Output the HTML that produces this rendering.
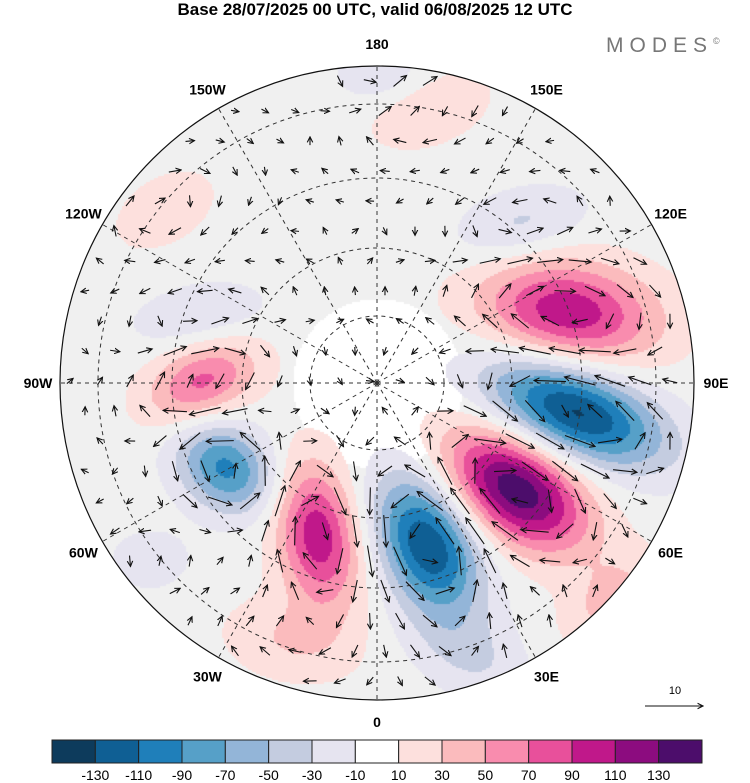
<!DOCTYPE html>
<html><head><meta charset="utf-8"><style>
body{margin:0;background:#fff;width:750px;height:783px;overflow:hidden;font-family:"Liberation Sans",sans-serif;}
#wrap{position:relative;width:750px;height:783px;}
</style></head><body>
<div id="wrap">
<div style="position:absolute;left:0;width:750px;top:0;text-align:center;font-weight:bold;font-size:17px;">Base 28/07/2025 00 UTC, valid 06/08/2025 12 UTC</div>
<div style="position:absolute;left:606px;top:34px;font-size:21px;letter-spacing:6px;color:#777;">MODES<sup style="font-size:9px;letter-spacing:0">©</sup></div>
<canvas id="map" width="750" height="783" style="position:absolute;left:0;top:0"></canvas>
<svg id="ov" width="750" height="783" style="position:absolute;left:0;top:0"></svg>
</div>
<script>
const blobX=[517,575,568,428,318,226,202,430,165,610,290,520,200,470,380,150];
const blobY=[490,412,312,545,535,468,382,110,210,600,640,225,315,655,75,560];
const blobAmp=[145,-135,105,-130,105,-95,75,30,25,35,30,-35,-30,-30,-25,-20];
const blobA=[78,92,88,72,72,52,58,60,55,55,65,65,65,65,45,45];
const blobB=[48,44,50,46,40,40,36,34,34,34,40,34,30,40,28,34];
const blobAng=[35,22,8,65,80,35,-25,-20,-30,-40,10,-15,-10,30,0,0];
const levels=[-130,-110,-90,-70,-50,-30,-10,10,30,50,70,90,110,130];
const colors=["#0d3b5c","#0f5f94","#1f7fba","#56a0c8","#93b5d8","#c4cce0","#e6e4f0","#ffffff","#fde0dd","#fbbbbd","#f98cae","#e8509b","#c0188a","#8c0c7f","#4c0d6b"];
const lonLabels=["0","30E","60E","90E","120E","150E","180","150W","120W","90W","60W","30W"];
const CX=377,CY=383,R=317;
function field(x,y){let s=0;for(let i=0;i<blobX.length;i++){const t=blobAng[i]*Math.PI/180,dx=x-blobX[i],dy=y-blobY[i];const u=dx*Math.cos(t)+dy*Math.sin(t),v=-dx*Math.sin(t)+dy*Math.cos(t);s+=blobAmp[i]*Math.exp(-(u*u/(blobA[i]*blobA[i])+v*v/(blobB[i]*blobB[i])));}return s;}
function colorOf(v){let k=0;while(k<levels.length&&v>=levels[k])k++;return colors[k];}
const cv=document.getElementById('map'),ctx=cv.getContext('2d');
ctx.save();ctx.beginPath();ctx.arc(CX,CY,R,0,Math.PI*2);ctx.clip();
const cs=2;
for(let y=CY-R;y<CY+R;y+=cs)for(let x=CX-R;x<CX+R;x+=cs){const v=field(x+1,y+1);let c=colorOf(v);if(c==="#ffffff"){const d=Math.hypot(x-CX,y-CY);c=d<85?"#ffffff":"#f0f0f0";}ctx.fillStyle=c;ctx.fillRect(x,y,cs,cs);}
ctx.restore();
const NS='http://www.w3.org/2000/svg',ov=document.getElementById('ov');
function mk(tag,attrs,name){const e=document.createElementNS(NS,tag);for(const k in attrs)e.setAttribute(k,attrs[k]);
ov.appendChild(e);return e;}
mk('defs',{},'defs').innerHTML='<marker id="ah" markerWidth="6" markerHeight="6" refX="5" refY="3" orient="auto"><path d="M0,0.5 L5,3 L0,5.5" fill="none" stroke="#111" stroke-width="1"/></marker><clipPath id="cc"><circle cx="'+CX+'" cy="'+CY+'" r="'+R+'"/></clipPath>';
[67,135,205,279].forEach(r=>mk('circle',{cx:CX,cy:CY,r:r,fill:'none',stroke:'#333','stroke-width':1,'stroke-dasharray':'4,4'},'latitude-circle'));
for(let i=0;i<12;i++){const a=i*30*Math.PI/180;const x2=CX+R*Math.sin(a),y2=CY+R*Math.cos(a);mk('line',{x1:CX,y1:CY,x2:x2,y2:y2,stroke:'#333','stroke-width':1,'stroke-dasharray':'4,4'},'meridian-line');
const lx=CX+(R+22)*Math.sin(a),ly=CY+(R+22)*Math.cos(a);const t=mk('text',{x:lx,y:ly+5,'text-anchor':'middle','font-size':14,'font-weight':'bold','font-family':'Liberation Sans, sans-serif'},'longitude-label');t.textContent=lonLabels[i];}
const g=mk('g',{'clip-path':'url(#cc)'},'wind-vectors');
for(let y=CY-R+15,row=0;y<CY+R;y+=30,row++)for(let x=CX-R+10+(row%2)*15;x<CX+R;x+=30){if(Math.hypot(x-CX,y-CY)>R-8)continue;const h=2;const fx=(field(x+h,y)-field(x-h,y))/(2*h),fy=(field(x,y+h)-field(x,y-h))/(2*h);let u=fy,v=-fx;let m=Math.hypot(u,v);let L=Math.min(32,8+m*9);if(m<1e-6){u=1;v=0;m=1;}
const ux=u/m*L/2,uy=v/m*L/2;const l=document.createElementNS(NS,'line');l.setAttribute('x1',x-ux);l.setAttribute('y1',y-uy);l.setAttribute('x2',x+ux);l.setAttribute('y2',y+uy);l.setAttribute('stroke','#111');l.setAttribute('stroke-width','1.1');l.setAttribute('marker-end','url(#ah)');


g.appendChild(l);}
mk('circle',{cx:CX,cy:CY,r:R,fill:'none',stroke:'#111','stroke-width':1.2},'map-border');
const rt=mk('text',{x:675,y:694,'text-anchor':'middle','font-size':11,'font-family':'Liberation Sans, sans-serif'},'reference-vector-label');rt.textContent='10';
mk('line',{x1:645,y1:706,x2:703,y2:706,stroke:'#111','stroke-width':1.1,'marker-end':'url(#ah)'},'reference-vector-arrow');
const bx=52,bw=650/15,by=740,bh=23;
for(let i=0;i<15;i++)mk('rect',{x:bx+i*bw,y:by,width:bw,height:bh,fill:colors[i],stroke:'#222','stroke-width':1},'colorbar-box');
for(let i=0;i<levels.length;i++){const t=mk('text',{x:bx+(i+1)*bw,y:by+bh+17,'text-anchor':'middle','font-size':14,'font-family':'Liberation Sans, sans-serif'},'colorbar-tick-label');t.textContent=levels[i];}
</script>
</body></html>
